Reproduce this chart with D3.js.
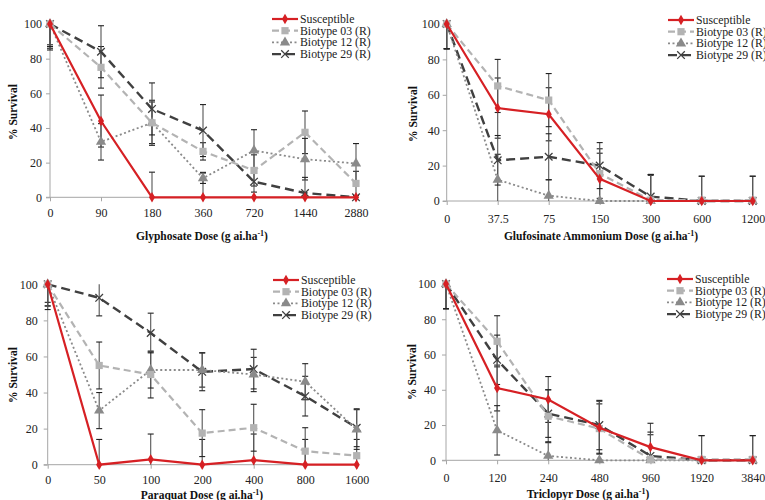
<!DOCTYPE html>
<html>
<head>
<meta charset="utf-8">
<script src="https://cdn.jsdelivr.net/npm/d3@7"></script>
<style>
  html, body { margin: 0; padding: 0; background: #fff; }
  svg { display: block; }
  text { font-family: "Liberation Serif", "Times New Roman", serif; }
</style>
</head>
<body>
<svg id="chart" width="765" height="500"></svg>
<script>
// ---------- DATA ----------
const seriesNames = ["Susceptible", "Biotype 03 (R)", "Biotype 12 (R)", "Biotype 29 (R)"];
const yTicks = [0, 20, 40, 60, 80, 100];

// Glyphosate
const glyDoses = ["0", "90", "180", "360", "720", "1440", "2880"];
const glyS   = [100, 44, 0, 0, 0, 0, 0];
const glyB03 = [100, 75, 43, 26.5, 15.5, 37.5, 8];
const glyB12 = [100, 32, 43, 11, 27, 22, 19.5];
const glyB29 = [100, 84, 51, 38.5, 9, 2.5, 0];
const glySErr   = [14, 15, 14.5, 14.4, 0, 0, 0];
const glyB03Err = [12, 12, 12, 5, 9, 12.3, 7];
const glyB12Err = [15, 10.5, 13, 3, 12, 12, 11.5];
const glyB29Err = [13, 15, 15, 15, 6, 9, 0];

// Glufosinate Ammonium
const gluDoses = ["0", "37.5", "75", "150", "300", "600", "1200"];
const gluS   = [100, 52.5, 49, 12.5, 0, 0, 0];
const gluB03 = [100, 65, 57, 15.5, 0.5, 0.5, 0.5];
const gluB12 = [100, 12, 3, 0, 0, 0, 0];
const gluB29 = [100, 23, 25, 20, 2.5, 0, 0];
const gluSErr   = [14, 17, 15, 14.5, 14.5, 14, 14];
const gluB03Err = [14, 15, 15, 14, 14.5, 13.5, 13.5];
const gluB12Err = [14, 14.4, 9, 0, 0, 0, 0];
const gluB29Err = [14, 14, 13, 13, 12.5, 0, 0];

// Paraquat
const parDoses = ["0", "50", "100", "200", "400", "800", "1600"];
const parS   = [100, 0, 3, 0, 2.5, 0, 0];
const parB03 = [100, 55, 50, 17.5, 20.5, 7.5, 5];
const parB12 = [100, 30, 52.5, 52.5, 50, 46, 19.5];
const parB29 = [100, 92.5, 73, 51.5, 53, 38, 20.5];
const parSErr   = [12, 14, 14, 14, 14.5, 14, 0];
const parB03Err = [12, 13, 13, 13, 13, 13, 9];
const parB12Err = [10, 10, 10, 9.5, 9.5, 10, 11];
const parB29Err = [14, 10, 11, 10.5, 11, 11, 10.5];

// Triclopyr
const triDoses = ["0", "120", "240", "480", "960", "1920", "3840"];
const triS   = [100, 41, 34.5, 18.5, 7.5, 0, 0];
const triB03 = [100, 67.5, 25, 18, 0.5, 0.5, 0.5];
const triB12 = [100, 17, 2.5, 0, 0, 0, 0];
const triB29 = [100, 57, 26.5, 20, 2.5, 0, 0];
const triSErr   = [14, 13, 13, 15, 13.5, 14, 14];
const triB03Err = [14, 14.5, 15, 14, 14, 13.5, 13.5];
const triB12Err = [14, 14, 8, 0, 0, 0, 0];
const triB29Err = [14, 14, 13.5, 14, 13.5, 0, 0];

// ---------- STYLE ----------
const styles = [
  { color: "#d62024", width: 2.2, dash: null,  marker: "diamond" },
  { color: "#b3b3b3", width: 2.2, dash: "7,4", marker: "square" },
  { color: "#8a8a8a", width: 1.8, dash: "2,2.5", marker: "triangle" },
  { color: "#404040", width: 2.4, dash: "9,5", marker: "x" }
];

const panels = [
  { title: "Glyphosate Dose (g ai.ha", doses: glyDoses,
    data: [glyS, glyB03, glyB12, glyB29], errs: [glySErr, glyB03Err, glyB12Err, glyB29Err],
    x0: 50, x1: 356, yBottom: 197.3, yTop: 24, xPad: 7, yPad: 4, titleX: 202, titleY: 240,
    yTitleX: 13, yTitleY: 112, legX: 272, legY: 19 },
  { title: "Glufosinate Ammonium Dose (g ai.ha", doses: gluDoses,
    data: [gluS, gluB03, gluB12, gluB29], errs: [gluSErr, gluB03Err, gluB12Err, gluB29Err],
    x0: 446.7, x1: 752.7, yBottom: 201, yTop: 24, xPad: 9, yPad: 3, titleX: 601, titleY: 240,
    yTitleX: 413, yTitleY: 114, legX: 668, legY: 20 },
  { title: "Paraquat Dose (g ai.ha", doses: parDoses,
    data: [parS, parB03, parB12, parB29], errs: [parSErr, parB03Err, parB12Err, parB29Err],
    x0: 47.7, x1: 356.7, yBottom: 464.7, yTop: 284.3, xPad: 7, yPad: 6, titleX: 202, titleY: 499,
    yTitleX: 13, yTitleY: 375, legX: 273, legY: 280 },
  { title: "Triclopyr Dose (g ai.ha", doses: triDoses,
    data: [triS, triB03, triB12, triB29], errs: [triSErr, triB03Err, triB12Err, triB29Err],
    x0: 446, x1: 752.7, yBottom: 460.3, yTop: 284, xPad: 9, yPad: 6, titleX: 588, titleY: 498,
    yTitleX: 412, yTitleY: 372, legX: 667, legY: 279 }
];

const svg = d3.select("#chart");
const axisColor = "#a6a6a6";

function drawMarker(g, type, color, cx, cy) {
  if (type === "x") {
    const r = 3.8;
    g.append("path")
      .attr("d", `M${cx - r},${cy - r}L${cx + r},${cy + r}M${cx - r},${cy + r}L${cx + r},${cy - r}`)
      .attr("stroke", color).attr("stroke-width", 1.3).attr("fill", "none");
  } else {
    const sym = type === "diamond" ? d3.symbolDiamond : type === "square" ? d3.symbolSquare : d3.symbolTriangle;
    const size = type === "diamond" ? 32 : type === "square" ? 52 : 46;
    g.append("path")
      .attr("d", d3.symbol().type(sym).size(size)())
      .attr("transform", `translate(${cx},${cy})`)
      .attr("fill", color).attr("stroke", "none");
  }
}

panels.forEach(p => {
  const g = svg.append("g");
  const x = d3.scalePoint().domain(p.doses).range([p.x0, p.x1]);
  const y = d3.scaleLinear().domain([0, 100]).range([p.yBottom, p.yTop]);

  // y axis
  const ya = g.append("g").attr("transform", `translate(${p.x0},0)`)
    .call(d3.axisLeft(y).tickValues(yTicks).tickSize(4).tickPadding(p.yPad));
  ya.select(".domain").attr("stroke", axisColor).attr("d", `M-4,${p.yTop}H0V${p.yBottom}H-4`);
  ya.selectAll(".tick line").attr("stroke", axisColor);
  ya.selectAll(".tick text").attr("font-size", 12).attr("fill", "#222")
    .attr("font-family", "Liberation Serif");

  // x axis
  const xa = g.append("g").attr("transform", `translate(0,${p.yBottom})`)
    .call(d3.axisBottom(x).tickSize(4).tickPadding(p.xPad));
  xa.select(".domain").attr("stroke", axisColor).attr("d", `M${p.x0},0H${p.x1 + 2}`);
  xa.selectAll(".tick line").attr("stroke", axisColor);
  xa.selectAll(".tick text").attr("font-size", 12).attr("fill", "#222")
    .attr("font-family", "Liberation Serif");

  // axis titles
  const t = g.append("text").attr("x", p.titleX).attr("y", p.titleY)
    .attr("text-anchor", "middle").attr("font-size", 11.5).attr("font-weight", "bold").attr("fill", "#111");
  t.append("tspan").text(p.title);
  t.append("tspan").attr("font-size", 8).attr("dy", -4).text("-1");
  t.append("tspan").attr("dy", 4).text(")");

  g.append("text")
    .attr("transform", `translate(${p.yTitleX},${p.yTitleY}) rotate(-90)`)
    .attr("text-anchor", "middle").attr("dominant-baseline", "central")
    .attr("font-size", 11.5).attr("font-weight", "bold").attr("fill", "#111")
    .text("% Survival");

  // error bars
  p.data.forEach((vals, si) => {
    const errs = p.errs[si];
    vals.forEach((v, i) => {
      const e = errs[i];
      if (!e) return;
      const cx = x(p.doses[i]);
      const hi = y(Math.min(100, v + e));
      const lo = y(Math.max(0, v - e));
      g.append("line").attr("x1", cx).attr("x2", cx).attr("y1", hi).attr("y2", lo)
        .attr("stroke", "#555").attr("stroke-width", 1.1);
      [v + e, v - e].forEach(b => {
        if (b > 100 || b < 0) return;
        g.append("line").attr("x1", cx - 3).attr("x2", cx + 3).attr("y1", y(b)).attr("y2", y(b))
          .attr("stroke", "#222").attr("stroke-width", 1.1);
      });
    });
  });

  // lines + markers, draw from last series to first so red on top
  [3, 2, 1, 0].forEach(si => {
    const st = styles[si];
    const vals = p.data[si];
    const line = d3.line().x((d, i) => x(p.doses[i])).y(d => y(d));
    g.append("path").datum(vals).attr("d", line)
      .attr("fill", "none").attr("stroke", st.color).attr("stroke-width", st.width)
      .attr("stroke-dasharray", st.dash);
    vals.forEach((v, i) => drawMarker(g, st.marker, st.color, x(p.doses[i]), y(v)));
  });

  // legend
  seriesNames.forEach((name, si) => {
    const st = styles[si];
    const ly = p.legY + si * 11.7;
    g.append("line").attr("x1", p.legX).attr("x2", p.legX + 26).attr("y1", ly).attr("y2", ly)
      .attr("stroke", st.color).attr("stroke-width", st.width).attr("stroke-dasharray", st.dash);
    drawMarker(g, st.marker, st.color, p.legX + 13, ly);
    g.append("text").attr("x", p.legX + 28).attr("y", ly).attr("dominant-baseline", "central")
      .attr("font-size", 11.8).attr("fill", "#222").text(name);
  });
});
</script>
</body>
</html>
